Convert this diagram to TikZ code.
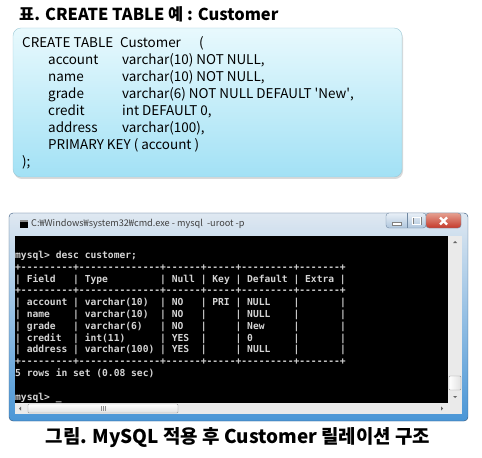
\documentclass[tikz,border=0pt]{standalone}
\usepackage{fontspec}
\setmainfont{Noto Sans CJK KR}
\newfontfamily\consolefont{DejaVu Sans Mono}[Ligatures=TeXOff]
\usetikzlibrary{shadows}
\definecolor{boxtop}{HTML}{E8F9FD}
\definecolor{boxbottom}{HTML}{A2E1F5}
\definecolor{boxline}{HTML}{9CC9D6}
\definecolor{frametop}{HTML}{DFE8F1}
\definecolor{framemiddle}{HTML}{B4D0EA}
\definecolor{framebottom}{HTML}{4A96D6}
\definecolor{frameline}{HTML}{33557A}
\definecolor{consoletext}{HTML}{D4D4D4}
\definecolor{scrollgray}{HTML}{EAEAEA}
\definecolor{closetop}{HTML}{E6A090}
\definecolor{closebottom}{HTML}{C4382A}
\definecolor{buttontop}{HTML}{E9F0F7}
\definecolor{buttonbottom}{HTML}{AFC6DD}
\begin{document}
\begin{tikzpicture}[x=1bp, y=-1bp,
  codeline/.style={anchor=base west, inner sep=0pt, font=\fontsize{13.5}{13.5}\selectfont},
  consoleline/.style={anchor=base west, inner sep=0pt, text=consoletext, font=\consolefont\bfseries\fontsize{9.67}{9.67}\selectfont}]
\useasboundingbox (0,0) rectangle (482,458);
\def\codebox{(13,28) rectangle (402,177)}
\def\window{(9,213) rectangle (468,421)}

\node[anchor=base west, inner sep=0pt, font=\bfseries\fontsize{16.5}{16.5}\selectfont] (title) at (19,20.5) {표. CREATE TABLE 예 : Customer};

\shade[rounded corners=8, top color=boxtop, bottom color=boxbottom, draw=boxline, drop shadow={opacity=0.3, shadow xshift=1bp, shadow yshift=-2bp}] \codebox;
\node[codeline] (create) at (22,48) {CREATE TABLE};
\node[codeline] (tablename) at (120,48) {Customer};
\node[codeline] (openparen) at (199,48) {(};
\foreach \i/\field/\type in {1/account/{varchar(10) NOT NULL,}, 2/name/{varchar(10) NOT NULL,}, 3/grade/{varchar(6) NOT NULL DEFAULT \textquotesingle New\textquotesingle,}, 4/credit/{int DEFAULT 0,}, 5/address/{varchar(100),}} {
  \node[codeline] (field\i) at (48,48+17*\i) {\field};
  \node[codeline] (type\i) at (122,48+17*\i) {\type};
}
\node[codeline] (primarykey) at (48,48+17*6) {PRIMARY KEY ( account )};
\node[codeline] (closeparen) at (22,48+17*7) {);};

\shade[rounded corners=4, top color=frametop, middle color=framemiddle, bottom color=framebottom, draw=frameline] \window;
\fill[black] (20,220) rectangle (28,228);
\fill[black!45] (20,220) rectangle (28,222);
\node[anchor=base west, inner sep=0pt, font=\fontsize{9.2}{9.2}\selectfont, text=black!75] (wintitle) at (31,227) {C:₩Windows₩system32₩cmd.exe - mysql\ \ -uroot -p};
\shade[rounded corners=3, top color=buttontop, bottom color=buttonbottom, draw=frameline!70] (386,213) rectangle (426,228);
\draw[frameline!70] (407,213) -- (407,228);
\shade[rounded corners=3, top color=closetop, bottom color=closebottom, draw=frameline!70] (426,213) rectangle (461,228);
\filldraw[fill=white, draw=black!50, line width=.3] (392,222) rectangle (401,225);
\draw[black!50, line width=2] (412.5,217.5) rectangle (420.5,224.5);
\draw[white, line width=1] (412.5,217.5) rectangle (420.5,224.5);
\draw[white, line width=2.2] (440,217.5) -- (447,224.5) (440,224.5) -- (447,217.5);

\fill[black] (15,236) rectangle (448,403);
\foreach \i/\t in {0/{mysql>~desc~customer;},
  1/{+---------+--------------+------+-----+---------+-------+},
  2/{|~Field~~~|~Type~~~~~~~~~|~Null~|~Key~|~Default~|~Extra~|},
  3/{+---------+--------------+------+-----+---------+-------+},
  4/{|~account~|~varchar(10)~~|~NO~~~|~PRI~|~NULL~~~~|~~~~~~~|},
  5/{|~name~~~~|~varchar(10)~~|~NO~~~|~~~~~|~NULL~~~~|~~~~~~~|},
  6/{|~grade~~~|~varchar(6)~~~|~NO~~~|~~~~~|~New~~~~~|~~~~~~~|},
  7/{|~credit~~|~int(11)~~~~~~|~YES~~|~~~~~|~0~~~~~~~|~~~~~~~|},
  8/{|~address~|~varchar(100)~|~YES~~|~~~~~|~NULL~~~~|~~~~~~~|},
  9/{+---------+--------------+------+-----+---------+-------+},
  10/{5~rows~in~set~(0.08~sec)},
  12/{mysql>~\_}} {
  \node[consoleline] (console\i) at (15,258.5+11.8*\i) {\t};
}

\fill[scrollgray] (448,236) rectangle (462,414);
\fill[scrollgray] (15,403) rectangle (448,414);
\fill[black!60] (453,243) -- (457,243) -- (455,241) -- cycle;
\shade[rounded corners=1, left color=white, right color=black!12, draw=black!40] (449,376) rectangle (461,390);
\fill[black!60] (453,396) -- (457,396) -- (455,398) -- cycle;
\fill[black!60] (21,406.5) -- (21,410.5) -- (19,408.5) -- cycle;
\fill[black!60] (441,406.5) -- (441,410.5) -- (443,408.5) -- cycle;
\shade[rounded corners=1, top color=white, bottom color=black!12, draw=black!40] (28,404) rectangle (178,413);
\foreach \gx in {101,103,105} {
  \draw[black!45, line width=.5] (\gx,406) -- (\gx,411);
}

\node[font=\bfseries\fontsize{19}{19}\selectfont] (caption) at (238,438) {그림. MySQL 적용 후 Customer 릴레이션 구조};
\end{tikzpicture}
\end{document}
